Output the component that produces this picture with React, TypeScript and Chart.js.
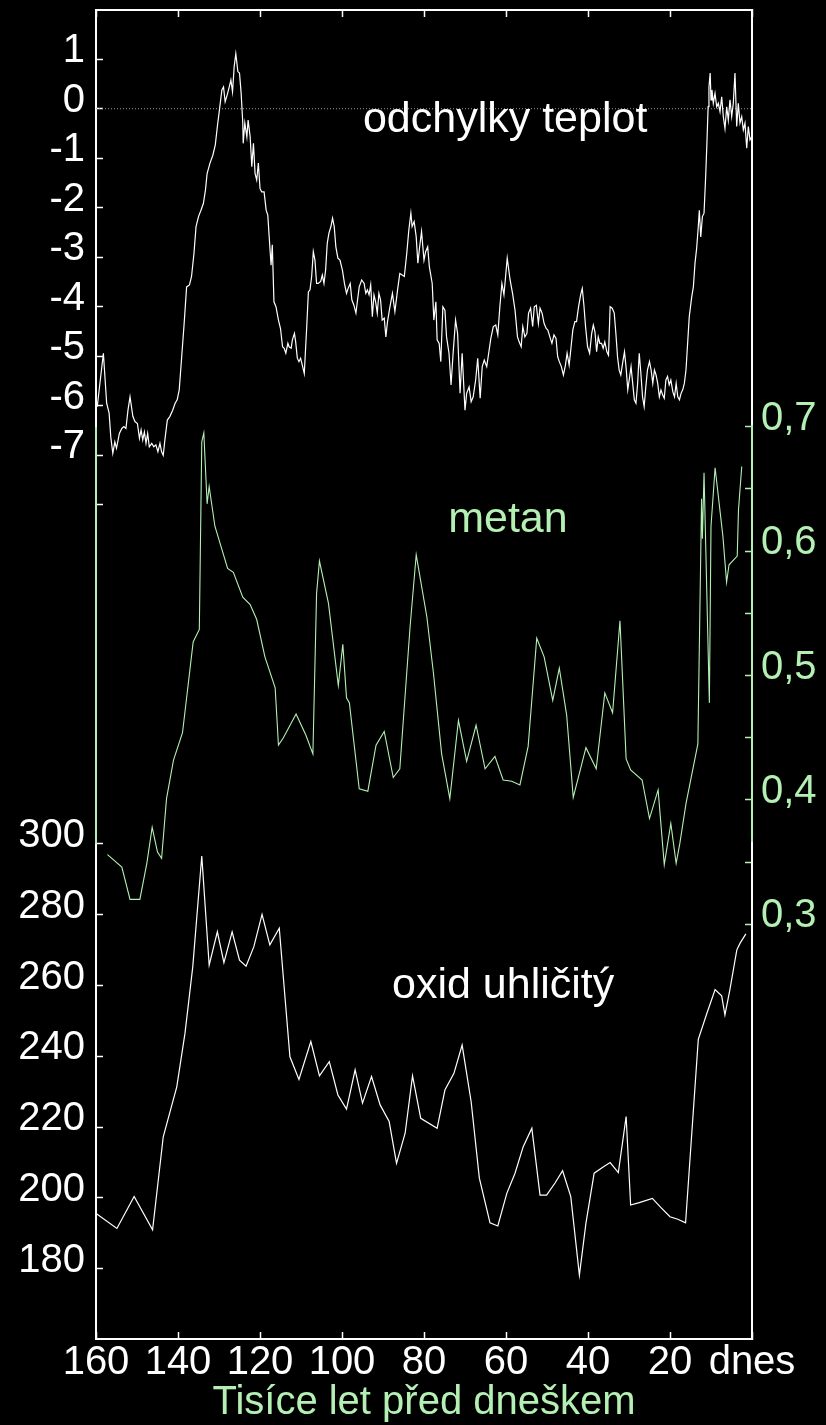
import React, { useEffect, useRef } from 'react';
import { Chart, registerables } from 'chart.js';

Chart.register(...registerables);

const FONT = '"Liberation Sans", Arial, Helvetica, sans-serif';
const GREEN = '#b4f0b4';
const WHITE = '#ffffff';

// ---- tick values ----
const ageTicks = [160, 140, 120, 100, 80, 60, 40, 20, 0];
const temperatureTicks = [1, 0, -1, -2, -3, -4, -5, -6];
const temperatureTicksLow = [-7, -8];
const methaneTicks = [0.7, 0.65, 0.6, 0.55, 0.5, 0.45, 0.4];
const methaneTicksLow = [0.35, 0.3];
const co2Ticks = [300, 280, 260, 240, 220, 200, 180];

// ---- texts ----
const xTitle = 'Tisíce let před dneškem';
const nowLabel = 'dnes';
const temperatureName = 'odchylky teplot';
const methaneName = 'metan';
const co2Name = 'oxid uhličitý';

// ---- series: [thousand years before present, value] ----
const temperature: [number, number][] = [
  [159.7, -6.02], [158.2, -4.94], [157.4, -5.95], [156.8, -6.15], [156.4, -6.63], [155.9, -6.96], [155.4, -6.73], [155.0, -6.86],
  [154.3, -6.56], [153.7, -6.46], [153.2, -6.42], [152.7, -6.46], [152.2, -6.09], [151.7, -5.82], [151.0, -6.22], [150.5, -6.32],
  [149.9, -6.36], [149.4, -6.66], [149.0, -6.49], [148.6, -6.69], [148.2, -6.53], [147.8, -6.76], [147.4, -6.56], [147.0, -6.83],
  [146.4, -6.76], [145.9, -6.83], [145.4, -6.79], [144.9, -6.93], [144.4, -6.76], [144.0, -6.93], [143.6, -7.0], [143.2, -6.69],
  [142.6, -6.29], [142.0, -6.22], [141.3, -6.09], [140.7, -5.95], [140.2, -5.88], [139.7, -5.68], [139.1, -5.01], [138.5, -4.34],
  [137.9, -3.6], [137.2, -3.56], [136.7, -3.39], [136.1, -2.92], [135.6, -2.38], [135.0, -2.18], [134.4, -2.05], [133.8, -1.91],
  [133.3, -1.64], [132.9, -1.31], [132.2, -1.1], [131.5, -0.94], [130.9, -0.73], [130.4, -0.36], [129.9, -0.03], [129.3, 0.38],
  [128.9, 0.44], [128.5, 0.14], [128.0, 0.28], [127.5, 0.44], [127.1, 0.58], [126.7, 0.34], [126.3, 0.85], [125.9, 1.11],
  [125.4, 0.75], [125.0, 0.72], [124.6, 0.31], [124.2, -0.29], [124.1, -0.7], [123.7, -0.29], [123.2, -0.57], [122.9, -0.23],
  [122.4, -0.57], [122.0, -1.17], [121.6, -0.7], [121.2, -1.31], [120.8, -1.44], [120.4, -1.1], [120.0, -1.61], [119.6, -1.68],
  [119.0, -1.68], [118.5, -2.05], [118.1, -2.15], [117.6, -2.79], [117.3, -3.16], [117.0, -2.75], [116.6, -3.9], [116.1, -4.0],
  [115.5, -4.27], [115.0, -4.44], [114.5, -4.81], [114.1, -4.84], [113.7, -4.94], [113.2, -4.74], [112.9, -4.81], [112.4, -4.84],
  [112.1, -4.67], [111.6, -4.54], [111.3, -4.71], [110.9, -5.04], [110.5, -5.11], [110.1, -5.04], [109.6, -5.21], [109.2, -5.35],
  [108.6, -4.4], [108.2, -3.7], [107.8, -3.66], [107.4, -3.39], [107.0, -2.89], [106.6, -3.06], [106.2, -3.53], [105.8, -3.53],
  [105.2, -3.49], [104.8, -3.36], [104.4, -3.53], [104.0, -3.26], [103.6, -2.72], [103.2, -2.52], [102.7, -2.38], [102.3, -2.21],
  [101.9, -2.38], [101.5, -2.79], [101.0, -3.02], [100.5, -3.06], [99.9, -3.26], [99.4, -3.53], [98.9, -3.73], [98.5, -3.63],
  [98.0, -3.53], [97.6, -3.86], [97.1, -3.97], [96.6, -4.13], [96.2, -3.86], [95.8, -3.6], [95.2, -3.46], [94.6, -3.53],
  [94.2, -3.73], [93.8, -3.66], [93.4, -3.76], [93.0, -3.56], [92.6, -4.2], [92.2, -3.76], [91.8, -3.9], [91.4, -4.13],
  [91.0, -3.73], [90.6, -3.86], [90.2, -4.27], [89.7, -4.23], [89.3, -4.61], [88.9, -4.3], [88.3, -4.0], [87.7, -3.73],
  [87.1, -4.1], [86.4, -3.63], [85.9, -3.33], [85.3, -3.36], [84.8, -3.39], [84.2, -2.92], [83.7, -2.45], [83.2, -2.11],
  [82.9, -2.38], [82.4, -2.28], [81.9, -2.59], [81.5, -3.12], [81.1, -2.82], [80.6, -2.48], [80.0, -3.06], [79.6, -2.89],
  [79.1, -2.79], [78.7, -3.19], [78.0, -3.53], [77.6, -4.27], [77.1, -3.9], [76.8, -4.67], [76.3, -4.74], [75.9, -5.11],
  [75.4, -4.0], [74.9, -4.07], [74.5, -4.61], [73.9, -4.94], [73.4, -5.58], [72.9, -4.94], [72.3, -4.27], [71.8, -4.54],
  [71.2, -5.75], [70.7, -4.94], [70.0, -6.09], [69.6, -5.75], [69.0, -5.62], [68.5, -5.92], [68.0, -5.82], [67.4, -5.48],
  [66.9, -5.04], [66.3, -5.85], [65.8, -5.21], [65.3, -5.08], [64.7, -5.21], [64.1, -4.87], [63.7, -4.64], [63.1, -4.4],
  [62.5, -4.37], [62.0, -4.57], [61.5, -4.0], [61.0, -3.53], [60.5, -3.76], [59.7, -3.02], [59.0, -3.46], [58.4, -3.73],
  [57.8, -4.07], [57.2, -4.61], [56.8, -4.71], [56.3, -4.81], [55.9, -4.4], [55.4, -4.61], [54.9, -4.54], [54.5, -4.13],
  [54.0, -4.03], [53.5, -4.4], [53.1, -4.0], [52.6, -3.97], [52.1, -4.34], [51.7, -4.03], [51.2, -4.13], [50.7, -4.34],
  [50.2, -4.44], [49.8, -4.47], [49.3, -4.61], [48.8, -4.74], [48.3, -4.57], [47.8, -4.64], [47.4, -5.01], [47.0, -5.11],
  [46.5, -5.21], [46.0, -5.38], [45.5, -5.18], [45.1, -4.94], [44.6, -5.18], [44.2, -4.87], [43.7, -4.47], [43.2, -4.3],
  [42.8, -4.3], [42.3, -4.0], [41.8, -3.76], [41.4, -3.63], [41.0, -3.97], [40.6, -4.4], [40.1, -4.81], [39.6, -4.94],
  [39.1, -4.54], [38.7, -4.37], [38.3, -4.51], [37.9, -4.91], [37.5, -4.61], [37.1, -4.74], [36.7, -4.74], [36.3, -4.84],
  [35.9, -4.71], [35.4, -4.91], [35.0, -4.98], [34.6, -4.0], [34.1, -4.03], [33.6, -4.13], [33.2, -4.54], [32.8, -5.01],
  [32.4, -5.28], [32.0, -5.38], [31.5, -5.11], [31.1, -4.91], [30.7, -5.24], [30.3, -5.68], [29.9, -5.45], [29.5, -5.21],
  [29.1, -5.55], [28.7, -5.88], [28.3, -5.95], [27.9, -5.55], [27.5, -4.94], [27.1, -5.35], [26.7, -5.82], [26.3, -6.02],
  [25.9, -5.62], [25.5, -5.28], [25.0, -5.11], [24.6, -5.28], [24.2, -5.55], [23.8, -5.28], [23.4, -5.38], [23.0, -5.55],
  [22.6, -5.82], [22.2, -5.68], [21.8, -5.78], [21.4, -5.85], [21.0, -5.48], [20.6, -5.41], [20.2, -5.58], [19.8, -5.48],
  [19.3, -5.72], [18.9, -5.82], [18.5, -5.55], [18.1, -5.82], [17.7, -5.88], [17.3, -5.75], [16.9, -5.68], [16.5, -5.55],
  [16.1, -5.28], [15.7, -4.74], [15.3, -4.2], [14.7, -3.8], [14.3, -3.6], [13.9, -3.12], [13.5, -2.82], [13.1, -2.38],
  [12.85, -2.05], [12.5, -2.59], [12.1, -2.18], [11.7, -2.11], [11.3, -1.37], [11.0, -0.7], [10.7, 0.04], [10.5, 0.44],
  [10.2, 0.72], [10.0, 0.18], [9.76, 0.38], [9.44, 0.11], [9.02, 0.31], [8.61, 0.04], [8.22, 0.11], [7.8, -0.06],
  [7.39, 0.24], [7.0, -0.16], [6.59, -0.4], [6.17, 0.04], [5.78, -0.23], [5.37, 0.18], [4.95, -0.16], [4.56, 0.11],
  [4.15, 0.72], [3.73, -0.36], [3.34, 0.11], [2.93, -0.29], [2.51, -0.16], [2.12, -0.43], [1.71, -0.29], [1.29, -0.8],
  [0.9, -0.36], [0.49, -0.63], [0.07, -0.57],
];

const methane: [number, number][] = [
  [157.2, 0.356], [153.7, 0.346], [151.7, 0.32], [149.3, 0.32], [147.6, 0.349], [146.3, 0.378], [145.0, 0.358], [144.0, 0.353],
  [142.8, 0.401], [141.1, 0.432], [138.9, 0.454], [136.3, 0.527], [134.8, 0.537], [134.2, 0.688], [133.7, 0.695], [132.9, 0.638],
  [132.4, 0.652], [131.0, 0.62], [127.9, 0.586], [126.5, 0.583], [124.2, 0.563], [122.4, 0.557], [120.8, 0.545], [118.8, 0.515],
  [116.3, 0.49], [115.5, 0.444], [114.3, 0.45], [111.2, 0.469], [108.8, 0.452], [107.1, 0.437], [106.2, 0.566], [105.5, 0.592],
  [103.3, 0.558], [100.9, 0.492], [99.8, 0.525], [98.9, 0.482], [98.2, 0.478], [95.8, 0.409], [93.7, 0.407], [91.7, 0.444],
  [89.7, 0.455], [87.5, 0.418], [85.9, 0.425], [83.4, 0.539], [81.9, 0.597], [79.3, 0.547], [77.7, 0.502], [75.7, 0.437],
  [73.7, 0.401], [71.6, 0.464], [69.6, 0.431], [67.3, 0.46], [65.1, 0.425], [62.7, 0.435], [60.7, 0.416], [58.6, 0.415],
  [56.6, 0.412], [54.6, 0.443], [52.5, 0.53], [50.7, 0.515], [48.6, 0.48], [47.0, 0.506], [45.2, 0.468], [43.6, 0.402],
  [40.5, 0.442], [38.0, 0.425], [35.9, 0.486], [34.0, 0.47], [32.2, 0.544], [30.7, 0.433], [29.6, 0.424], [26.8, 0.416],
  [25.0, 0.385], [22.9, 0.408], [21.4, 0.348], [19.8, 0.381], [18.5, 0.349], [17.6, 0.365], [16.1, 0.397], [13.2, 0.445],
  [12.3, 0.642], [12.1, 0.61], [11.7, 0.663], [10.4, 0.478], [10.0, 0.62], [9.0, 0.667], [7.1, 0.612], [6.2, 0.575],
  [5.6, 0.589], [3.6, 0.596], [3.3, 0.633], [2.5, 0.668],
];

const co2: [number, number][] = [
  [159.8, 195.5], [154.9, 191.4], [150.7, 200.4], [146.2, 191.0], [143.6, 217.3], [140.3, 231.4], [138.3, 246.5], [136.4, 265.3],
  [134.2, 296.6], [132.4, 265.8], [130.4, 275.2], [128.8, 266.5], [126.8, 275.2], [125.0, 267.2], [123.4, 265.5], [121.5, 271.0],
  [119.5, 280.1], [117.6, 271.5], [115.3, 276.2], [112.7, 239.9], [110.5, 233.5], [107.6, 244.2], [105.5, 234.5], [103.1, 238.5],
  [101.0, 229.1], [98.9, 225.1], [96.8, 236.2], [95.0, 226.8], [92.8, 234.3], [90.7, 226.3], [88.5, 221.6], [86.7, 209.8],
  [84.6, 218.3], [82.8, 234.5], [80.8, 222.5], [76.8, 219.7], [74.9, 230.5], [72.7, 235.2], [70.7, 243.2], [68.5, 227.2],
  [66.5, 205.6], [63.9, 193.0], [62.0, 192.1], [59.8, 201.3], [57.8, 207.0], [55.8, 214.5], [53.7, 219.7], [51.7, 200.8],
  [50.1, 200.8], [48.0, 204.3], [46.2, 207.7], [44.2, 200.4], [42.1, 178.2], [40.5, 192.9], [38.5, 207.0], [36.4, 208.7],
  [34.6, 210.0], [32.6, 207.2], [30.7, 223.0], [29.6, 198.0], [27.5, 198.7], [24.3, 199.9], [22.2, 197.3], [20.0, 194.7],
  [18.1, 194.0], [16.2, 193.0], [13.1, 244.8], [11.0, 252.2], [9.0, 258.9], [7.4, 257.1], [6.6, 251.7], [5.4, 258.8],
  [3.7, 270.1], [2.9, 272.0], [1.5, 274.6],
];

const zeroLine: [number, number][] = [[160, 0], [0, 0]];

// ---- axis ranges (each panel of the stacked frame) ----
const T_MAX = 1.994;
const T_SPLIT = -6.41;
const T_MIN = -14.834;
const M_MAX = 1.035;
const M_SPLIT1 = 0.70056;
const M_SPLIT2 = 0.36535;
const M_MIN = -0.0334;
const C_MAX = 300.28;
const C_MIN = 160.17;

const W_TOP = 416;
const W_MID = 417;
const W_BOT = 496;

// ---- label anchors (in data units) ----
const temperatureNameAt: [number, number] = [94.9, -0.465];
const methaneNameAt: [number, number] = [74.1, 0.6156];
const co2NameAt: [number, number] = [87.8, 256.4];

const toXY = (arr: [number, number][]) => arr.map(([x, y]) => ({ x, y }));

function yScale(o: any) {
  return {
    type: 'linear',
    position: o.position,
    stack: o.position,
    stackWeight: o.weight,
    min: o.min,
    max: o.max,
    afterBuildTicks: (s: any) => {
      s.ticks = (o.ticks || []).map((v: number) => ({ value: v }));
    },
    afterFit: (s: any) => {
      s.width = o.width;
      s.paddingTop = 0;
      s.paddingBottom = 0;
    },
    ticks: {
      display: !!o.ticks,
      autoSkip: false,
      color: o.labelColor,
      font: { size: 40, family: FONT },
      padding: o.position === 'left' ? 18 : 16,
      labelOffset: -8,
      callback: o.label,
    },
    grid: {
      drawOnChartArea: false,
      drawTicks: !!o.ticks,
      tickLength: -7,
      tickColor: o.tickColor,
      tickWidth: 1.5,
      color: o.tickColor,
    },
    border: { color: o.borderColor, width: 2 },
  };
}

const nameplatePlugin = {
  id: 'seriesNames',
  afterDatasetsDraw(chart: any) {
    const { ctx, scales } = chart;
    ctx.save();
    ctx.font = `43px ${FONT}`;
    ctx.textAlign = 'left';
    ctx.textBaseline = 'alphabetic';
    ctx.fillStyle = WHITE;
    ctx.fillText(temperatureName, scales.x.getPixelForValue(temperatureNameAt[0]), scales.yT.getPixelForValue(temperatureNameAt[1]));
    ctx.fillStyle = GREEN;
    ctx.fillText(methaneName, scales.x.getPixelForValue(methaneNameAt[0]), scales.yM.getPixelForValue(methaneNameAt[1]));
    ctx.fillStyle = WHITE;
    ctx.fillText(co2Name, scales.x.getPixelForValue(co2NameAt[0]), scales.yC.getPixelForValue(co2NameAt[1]));
    ctx.restore();
  },
};

export default function App() {
  const ref = useRef<HTMLCanvasElement>(null);

  useEffect(() => {
    document.body.style.margin = '0';
    document.body.style.background = '#000';
    document.documentElement.style.background = '#000';
    Chart.defaults.font.family = FONT;

    const chart = new Chart(ref.current as HTMLCanvasElement, {
      type: 'line',
      data: {
        datasets: [
          {
            label: temperatureName,
            data: toXY(temperature),
            xAxisID: 'x',
            yAxisID: 'yT',
            borderColor: WHITE,
            borderWidth: 1.2,
            pointRadius: 0,
            tension: 0,
            clip: false,
          },
          {
            label: 'zero',
            data: toXY(zeroLine),
            xAxisID: 'x',
            yAxisID: 'yT',
            borderColor: '#9a9a9a',
            borderWidth: 1,
            borderDash: [1, 2],
            pointRadius: 0,
            clip: false,
          },
          {
            label: methaneName,
            data: toXY(methane),
            xAxisID: 'x',
            yAxisID: 'yM',
            borderColor: GREEN,
            borderWidth: 1.1,
            pointRadius: 0,
            tension: 0,
            clip: false,
          },
          {
            label: co2Name,
            data: toXY(co2),
            xAxisID: 'x',
            yAxisID: 'yC',
            borderColor: WHITE,
            borderWidth: 1.2,
            pointRadius: 0,
            tension: 0,
            clip: false,
          },
        ],
      } as any,
      options: {
        responsive: false,
        animation: false,
        events: [],
        layout: { padding: 0 },
        plugins: { legend: { display: false }, tooltip: { enabled: false }, title: { display: false } },
        scales: {
          x: {
            type: 'linear',
            position: 'bottom',
            min: 0,
            max: 160,
            reverse: true,
            afterBuildTicks: (s: any) => {
              s.ticks = ageTicks.map((v) => ({ value: v }));
            },
            afterFit: (s: any) => {
              s.height = 86;
              s.paddingLeft = 0;
              s.paddingRight = 0;
            },
            ticks: {
              autoSkip: false,
              maxRotation: 0,
              color: WHITE,
              font: { size: 40, family: FONT },
              padding: 7,
              callback: (v: any) => (v === 0 ? nowLabel : String(v)),
            },
            grid: { drawOnChartArea: false, tickLength: -7, tickColor: WHITE, tickWidth: 1.5 },
            border: { color: WHITE, width: 2 },
            title: {
              display: true,
              text: xTitle,
              color: GREEN,
              font: { size: 40, family: FONT, lineHeight: 1 },
              padding: { top: 0, bottom: 2 },
            },
          },
          x2: {
            type: 'linear',
            position: 'top',
            min: 0,
            max: 160,
            reverse: true,
            afterBuildTicks: (s: any) => {
              s.ticks = ageTicks.map((v) => ({ value: v }));
            },
            afterFit: (s: any) => {
              s.height = 10;
              s.paddingLeft = 0;
              s.paddingRight = 0;
            },
            ticks: { display: false },
            grid: { drawOnChartArea: false, tickLength: -7, tickColor: WHITE, tickWidth: 1.5 },
            border: { color: WHITE, width: 2 },
          },
          // left stack (placed top-to-bottom in reverse definition order)
          yC: yScale({
            position: 'left', weight: W_BOT, min: C_MIN, max: C_MAX, width: 96, ticks: co2Ticks,
            label: (v: any) => String(v), labelColor: WHITE, tickColor: WHITE, borderColor: WHITE,
          }),
          yTL: yScale({
            position: 'left', weight: W_MID, min: T_MIN, max: T_SPLIT, width: 96, ticks: temperatureTicksLow,
            label: (v: any) => (v === -7 ? '-7' : ''), labelColor: WHITE, tickColor: WHITE, borderColor: GREEN,
          }),
          yT: yScale({
            position: 'left', weight: W_TOP, min: T_SPLIT, max: T_MAX, width: 96, ticks: temperatureTicks,
            label: (v: any) => String(v), labelColor: WHITE, tickColor: WHITE, borderColor: WHITE,
          }),
          // right stack (placed top-to-bottom in definition order)
          yR1: yScale({
            position: 'right', weight: W_TOP, min: M_SPLIT1, max: M_MAX, width: 74, ticks: null,
            label: () => '', labelColor: GREEN, tickColor: GREEN, borderColor: WHITE,
          }),
          yM: yScale({
            position: 'right', weight: W_MID, min: M_SPLIT2, max: M_SPLIT1, width: 74, ticks: methaneTicks,
            label: (v: any) => (Math.abs(v * 10 - Math.round(v * 10)) < 1e-6 ? v.toFixed(1).replace('.', ',') : ''),
            labelColor: GREEN, tickColor: GREEN, borderColor: GREEN,
          }),
          yR3: yScale({
            position: 'right', weight: W_BOT, min: M_MIN, max: M_SPLIT2, width: 74, ticks: methaneTicksLow,
            label: (v: any) => (Math.abs(v - 0.3) < 1e-6 ? '0,3' : ''),
            labelColor: GREEN, tickColor: GREEN, borderColor: WHITE,
          }),
        } as any,
      },
      plugins: [nameplatePlugin],
    });

    return () => chart.destroy();
  }, []);

  return (
    <div style={{ width: 826, height: 1425, background: '#000', overflow: 'hidden' }}>
      <canvas ref={ref} width={826} height={1425} style={{ display: 'block', width: 826, height: 1425 }} />
    </div>
  );
}
